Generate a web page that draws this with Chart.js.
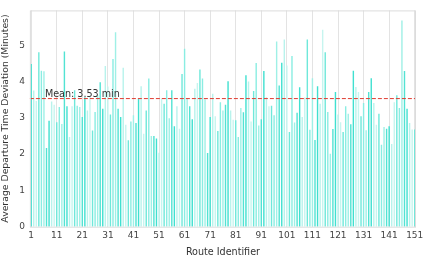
<!DOCTYPE html>
<html>
<head>
<meta charset="utf-8">
<script src="https://cdn.jsdelivr.net/npm/chart.js@4/dist/chart.umd.min.js"></script>
<style>
  html, body { margin: 0; padding: 0; background: #fff; }
  #wrap { width: 429px; height: 258px; }
</style>
</head>
<body>
<div id="wrap"><canvas id="routeChart"></canvas></div>
<script>
// route ids 1..151
const routeIds = [];
for (let i = 1; i <= 151; i++) routeIds.push(String(i));

// average departure deviation per route (minutes)
const deviationMinutes = [
    4.48, 3.75, 3.46, 4.81, 4.30, 4.28, 2.17, 2.92, 3.45, 3.36,
    2.88, 3.30, 2.83, 4.83, 3.32, 2.47, 3.32, 3.76, 3.33, 3.30,
    3.02, 3.57, 3.20, 3.61, 2.65, 3.16, 3.62, 3.98, 3.25, 4.43,
    3.86, 3.09, 4.62, 5.36, 3.25, 3.02, 4.38, 2.81, 2.38, 2.90,
    3.07, 2.86, 3.52, 3.87, 2.56, 3.20, 4.08, 2.50, 2.50, 2.43,
    2.04, 3.53, 3.39, 3.76, 2.99, 3.76, 2.77, 3.32, 2.70, 4.21,
    4.90, 3.54, 3.32, 2.96, 3.80, 3.96, 4.33, 4.08, 3.51, 2.03,
    3.02, 3.66, 3.04, 2.64, 3.43, 3.20, 3.36, 4.01, 3.20, 2.95,
    2.93, 2.47, 3.27, 3.15, 4.17, 4.00, 2.90, 3.74, 4.51, 2.79,
    2.96, 4.29, 3.57, 3.32, 3.33, 3.07, 5.10, 3.89, 4.52, 5.16,
    4.44, 2.61, 4.70, 2.87, 3.14, 3.84, 3.02, 3.56, 5.16, 2.67,
    4.09, 2.39, 3.87, 3.39, 5.43, 4.81, 3.16, 2.01, 2.69, 3.71,
    3.09, 2.88, 2.61, 3.32, 3.11, 2.82, 4.30, 3.85, 3.71, 3.04,
    3.41, 2.66, 3.71, 4.09, 3.41, 2.81, 3.11, 2.26, 2.75, 2.70,
    2.77, 2.28, 3.43, 3.62, 3.27, 5.68, 4.29, 3.25, 2.86, 2.68, 2.68
];

const meanValue = 3.53;
const yTicks = [0, 1, 2, 3, 4, 5];

// a few turquoise shades, cycled over the bars
const shades = ['#40e0d0', '#9ff0e6', '#6fe8da', '#b8f3ec', '#52e3d3', '#8aede2', '#c6f5ef'];
const barColors = deviationMinutes.map((v, i) => shades[(i * 3) % shades.length]);

const framePlugin = {
    id: 'frameAndMean',
    afterDatasetsDraw(chart) {
        const { ctx, chartArea: a, scales } = chart;
        const y = scales.y.getPixelForValue(meanValue);
        ctx.save();
        ctx.strokeStyle = '#e03c31';
        ctx.lineWidth = 1;
        ctx.setLineDash([4, 2]);
        ctx.beginPath();
        ctx.moveTo(a.left, y);
        ctx.lineTo(a.right, y);
        ctx.stroke();
        ctx.setLineDash([]);
        ctx.fillStyle = '#333';
        ctx.font = '9.6px "DejaVu Sans"';
        ctx.textBaseline = 'bottom';
        ctx.fillText('Mean: ' + meanValue.toFixed(2) + ' min', a.left + 15, y + 1);
        ctx.strokeStyle = '#dcdcdc';
        ctx.strokeRect(a.left + 0.5, a.top + 0.5, a.right - a.left - 1, a.bottom - a.top);
        ctx.restore();
    }
};

new Chart(document.getElementById('routeChart'), {
    type: 'bar',
    data: {
        labels: routeIds,
        datasets: [{
            data: deviationMinutes,
            backgroundColor: barColors,
            barPercentage: 0.55,
            categoryPercentage: 1.0
        }]
    },
    options: {
        responsive: true,
        maintainAspectRatio: false,
        animation: false,
        layout: { padding: { top: 2, right: 13, left: 0, bottom: 0 } },
        plugins: {
            legend: { display: false },
            tooltip: { enabled: false }
        },
        scales: {
            x: {
                grid: {
                    offset: false,
                    color: c => (c.index % 10 === 0 ? '#e3e3e3' : 'rgba(0,0,0,0)'),
                    drawTicks: false
                },
                border: { display: false },
                ticks: {
                    autoSkip: false,
                    maxRotation: 0,
                    padding: 4,
                    color: '#444',
                    font: { family: 'DejaVu Sans', size: 9 },
                    callback: (val, i) => (i % 10 === 0 ? routeIds[i] : '')
                },
                title: {
                    display: true,
                    text: 'Route Identifier',
                    color: '#333',
                    font: { family: 'DejaVu Sans', size: 9.6 },
                    padding: { top: 1, bottom: 0 }
                }
            },
            y: {
                min: 0,
                max: 5.96,
                grid: { display: false, drawTicks: false },
                border: { display: false },
                afterBuildTicks: s => { s.ticks = yTicks.map(v => ({ value: v })); },
                ticks: {
                    padding: 5,
                    color: '#444',
                    font: { family: 'DejaVu Sans', size: 9 }
                },
                title: {
                    display: true,
                    text: 'Average Departure Time Deviation (Minutes)',
                    color: '#333',
                    font: { family: 'DejaVu Sans', size: 9.3 },
                    padding: { top: 0, bottom: 3 }
                }
            }
        }
    },
    plugins: [framePlugin]
});
</script>
</body>
</html>
